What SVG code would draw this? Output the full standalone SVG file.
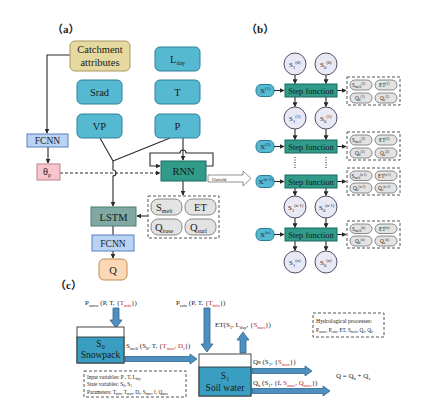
<svg xmlns="http://www.w3.org/2000/svg" width="440" height="411" viewBox="0 0 440 411" font-family="'Liberation Serif', 'Times New Roman', serif">
<defs>
<style>
text{font-family:'Liberation Serif','Times New Roman',serif;fill:#1a1a1a}
.lbl{font-weight:bold;font-size:11px}
.cjk{font-family:'Noto Sans CJK SC',sans-serif;font-weight:bold}
.inp{fill:#56b9d2;stroke:#2f7e98;stroke-width:1}
.fc{fill:#b9d3f5;stroke:#5a7fc0;stroke-width:1}
.teal{fill:#2f9b88;stroke:#1d6b5e;stroke-width:1}
.pill{fill:#e3e3e3;stroke:#6f6f6f;stroke-width:0.8}
.dbox{fill:none;stroke:#555;stroke-width:1;stroke-dasharray:3,2}
.ln{fill:none;stroke:#2a2a2a;stroke-width:1.1}
.circ{fill:#e9e9f5;stroke:#50506a;stroke-width:1}
.barrow{fill:#4f8fbf;stroke:#2c6690;stroke-width:0.8}
.red{fill:#c0282c}
.t10{font-size:10.5px}
.t9{font-size:9.5px}
.t7{font-size:7px}
.t5{font-size:5.2px}
.t4{font-size:4.6px}
</style>
<marker id="ah" viewBox="0 0 8 8" refX="7" refY="4" markerWidth="5" markerHeight="5" orient="auto" markerUnits="userSpaceOnUse">
<path d="M0,0 L8,4 L0,8 z" fill="#2a2a2a"/>
</marker>
</defs>
<rect width="440" height="411" fill="#ffffff"/>

<!-- panel labels -->
<text class="lbl" x="52" y="33"><tspan class="cjk">（</tspan>a<tspan class="cjk">）</tspan></text>
<text class="lbl" x="246" y="33"><tspan class="cjk">（</tspan>b<tspan class="cjk">）</tspan></text>
<text class="lbl" x="55" y="289"><tspan class="cjk">（</tspan>c<tspan class="cjk">）</tspan></text>

<!-- connectors panel a -->
<g id="connectors-a">
<polyline class="ln" points="70,55 47,55 47,133" marker-end="url(#ah)"/>
<line class="ln" x1="48" y1="147" x2="48" y2="163" marker-end="url(#ah)"/>
<line class="ln" x1="60" y1="173" x2="160" y2="173" stroke-dasharray="3,2" marker-end="url(#ah)"/>
<line class="ln" x1="100" y1="138" x2="113" y2="161"/>
<line class="ln" x1="170" y1="138" x2="113" y2="161"/>
<path class="ln" d="M113,161 V170 A3,3 0 0 1 113,176 V206" marker-end="url(#ah)"/>
<line class="ln" x1="183" y1="138" x2="183" y2="160" marker-end="url(#ah)"/>
<path class="ln" d="M206,166 H213 V153 H186 A3,3 0 0 0 180,153 H150 V166 H160" marker-end="url(#ah)"/>
<line class="ln" x1="183" y1="181" x2="183" y2="195" marker-end="url(#ah)"/>
<line class="ln" x1="148" y1="216" x2="137" y2="216" marker-end="url(#ah)"/>
<line class="ln" x1="113" y1="226" x2="113" y2="235"/>
<line class="ln" x1="113" y1="251" x2="113" y2="258" marker-end="url(#ah)"/>
<polygon points="208,175 243,175 243,171 251,178.5 243,186 243,182 208,182" fill="#ffffff" stroke="#777" stroke-width="0.8"/>
<text x="212" y="180.5" style="font-size:5px">Unfold</text>
</g>

<!-- nodes panel a -->
<g id="catchment">
<rect x="70" y="41" width="60" height="30" rx="5" fill="#e6d9a0" stroke="#a89660" stroke-width="1"/>
<text class="t10" x="100" y="53" text-anchor="middle">Catchment</text>
<text class="t10" x="100" y="66" text-anchor="middle">attributes</text>
</g>
<g id="lday">
<rect class="inp" x="155" y="47" width="45" height="24" rx="5"/>
<text class="t10" x="170" y="63">L<tspan style="font-size:6px" dy="2">day</tspan></text>
</g>
<g id="srad">
<rect class="inp" x="77" y="80" width="45" height="24" rx="5"/>
<text class="t10" x="99.5" y="96" text-anchor="middle">Srad</text>
</g>
<g id="t">
<rect class="inp" x="155" y="80" width="45" height="24" rx="5"/>
<text class="t10" x="177.5" y="96" text-anchor="middle">T</text>
</g>
<g id="vp">
<rect class="inp" x="77" y="114" width="45" height="24" rx="5"/>
<text class="t10" x="99.5" y="130" text-anchor="middle">VP</text>
</g>
<g id="p">
<rect class="inp" x="155" y="114" width="45" height="24" rx="5"/>
<text class="t10" x="177.5" y="130" text-anchor="middle">P</text>
</g>
<g id="fcnn1">
<rect class="fc" x="27" y="134" width="41" height="13"/>
<text class="t9" x="47.5" y="144" text-anchor="middle">FCNN</text>
</g>
<g id="thetap">
<rect x="37" y="164" width="23" height="16" fill="#f7c6cc" stroke="#c08088" stroke-width="1"/>
<text class="t10" x="43" y="175">θ<tspan style="font-size:6px" dy="2">p</tspan></text>
</g>
<g id="rnn">
<rect class="teal" x="161" y="161" width="45" height="20"/>
<text class="t10" x="183.5" y="175" text-anchor="middle">RNN</text>
</g>
<g id="outputs-a">
<rect class="dbox" x="148" y="196" width="71" height="42"/>
<rect class="pill" x="151" y="199" width="31" height="16" rx="7"/>
<rect class="pill" x="185" y="199" width="31" height="16" rx="7"/>
<rect class="pill" x="151" y="219" width="31" height="16" rx="7"/>
<rect class="pill" x="185" y="219" width="31" height="16" rx="7"/>
<text class="t10" x="156" y="211">S<tspan style="font-size:6px" dy="2">melt</tspan></text>
<text class="t10" x="200.5" y="211" text-anchor="middle">ET</text>
<text class="t10" x="155" y="231">Q<tspan style="font-size:6px" dy="2">base</tspan></text>
<text class="t10" x="190" y="231">Q<tspan style="font-size:6px" dy="2">surf</tspan></text>
</g>
<g id="lstm">
<rect x="91" y="207" width="45" height="19" fill="#7fa9a2" stroke="#4f7a72" stroke-width="1"/>
<text class="t10" x="113.5" y="220.5" text-anchor="middle">LSTM</text>
</g>
<g id="fcnn2">
<rect class="fc" x="92" y="235" width="42" height="16"/>
<text class="t9" x="113" y="246.5" text-anchor="middle">FCNN</text>
</g>
<g id="q">
<rect x="99" y="259" width="28" height="21" rx="5" fill="#fcd9b6" stroke="#c08a50" stroke-width="1"/>
<text class="t10" x="113" y="273.5" text-anchor="middle">Q</text>
</g>

<!-- panel b connectors -->
<g id="connectors-b">
<line class="ln" x1="274" y1="90.5" x2="284" y2="90.5" marker-end="url(#ah)"/>
<line class="ln" x1="274" y1="146.5" x2="284" y2="146.5" marker-end="url(#ah)"/>
<line class="ln" x1="274" y1="181.5" x2="284" y2="181.5" marker-end="url(#ah)"/>
<line class="ln" x1="274" y1="234.5" x2="284" y2="234.5" marker-end="url(#ah)"/>
<line class="ln" x1="337" y1="90.5" x2="346" y2="90.5" marker-end="url(#ah)"/>
<line class="ln" x1="337" y1="146.5" x2="346" y2="146.5" marker-end="url(#ah)"/>
<line class="ln" x1="337" y1="181.5" x2="346" y2="181.5" marker-end="url(#ah)"/>
<line class="ln" x1="337" y1="234.5" x2="346" y2="234.5" marker-end="url(#ah)"/>
<g stroke-width="0.9">
<line class="ln" x1="295" y1="75" x2="295" y2="83.5" marker-end="url(#ah)"/>
<line class="ln" x1="326" y1="75" x2="326" y2="83.5" marker-end="url(#ah)"/>
<line class="ln" x1="295" y1="97" x2="295" y2="106.5" marker-end="url(#ah)"/>
<line class="ln" x1="326" y1="97" x2="326" y2="106.5" marker-end="url(#ah)"/>
<line class="ln" x1="295" y1="129" x2="295" y2="139.5" marker-end="url(#ah)"/>
<line class="ln" x1="326" y1="129" x2="326" y2="139.5" marker-end="url(#ah)"/>
<line class="ln" x1="295" y1="157" x2="295" y2="168" stroke-dasharray="1,1.5"/>
<line class="ln" x1="326" y1="157" x2="326" y2="168" stroke-dasharray="1,1.5"/>
<line class="ln" x1="295" y1="188" x2="295" y2="195.5" marker-end="url(#ah)"/>
<line class="ln" x1="326" y1="188" x2="326" y2="195.5" marker-end="url(#ah)"/>
<line class="ln" x1="295" y1="218" x2="295" y2="227.5" marker-end="url(#ah)"/>
<line class="ln" x1="326" y1="218" x2="326" y2="227.5" marker-end="url(#ah)"/>
<line class="ln" x1="295" y1="241" x2="295" y2="250.5" marker-end="url(#ah)"/>
<line class="ln" x1="326" y1="241" x2="326" y2="250.5" marker-end="url(#ah)"/>
</g>
</g>

<!-- panel b nodes -->
<g id="states-0">
<circle class="circ" cx="295" cy="64" r="11"/><circle class="circ" cx="326" cy="64" r="11"/>
<text class="t7" x="289" y="67">S<tspan class="t4" dy="2">1</tspan><tspan class="t4" dy="-5">(0)</tspan></text>
<text class="t7" x="320" y="67">S<tspan class="t4" dy="2">0</tspan><tspan class="t4" dy="-5">(0)</tspan></text>
</g>
<g id="states-1">
<circle class="circ" cx="295" cy="118" r="11"/><circle class="circ" cx="326" cy="118" r="11"/>
<text class="t7" x="289" y="121">S<tspan class="t4" dy="2">1</tspan><tspan class="t4" dy="-5">(1)</tspan></text>
<text class="t7" x="320" y="121">S<tspan class="t4" dy="2">0</tspan><tspan class="t4" dy="-5">(1)</tspan></text>
</g>
<g id="states-n1">
<circle class="circ" cx="295" cy="207" r="11"/><circle class="circ" cx="326" cy="207" r="11"/>
<text class="t7" x="288" y="210">S<tspan class="t4" dy="2">1</tspan><tspan class="t4" dy="-5">(n-1)</tspan></text>
<text class="t7" x="319" y="210">S<tspan class="t4" dy="2">0</tspan><tspan class="t4" dy="-5">(n-1)</tspan></text>
</g>
<g id="states-n">
<circle class="circ" cx="295" cy="262" r="11"/><circle class="circ" cx="326" cy="262" r="11"/>
<text class="t7" x="289" y="265">S<tspan class="t4" dy="2">1</tspan><tspan class="t4" dy="-5">(n)</tspan></text>
<text class="t7" x="320" y="265">S<tspan class="t4" dy="2">0</tspan><tspan class="t4" dy="-5">(n)</tspan></text>
</g>

<g id="step-1">
<rect class="inp" x="256" y="84.5" width="18" height="12" rx="5"/>
<text class="t7" x="260" y="93">X<tspan class="t4" dy="-3">(1)</tspan></text>
<rect class="teal" x="285" y="84" width="52" height="13"/>
<text x="311" y="93.5" text-anchor="middle" style="font-size:8.5px">Step function</text>
</g>
<g id="step-2">
<rect class="inp" x="256" y="140.5" width="18" height="12" rx="5"/>
<text class="t7" x="260" y="149">X<tspan class="t4" dy="-3">(2)</tspan></text>
<rect class="teal" x="285" y="140" width="52" height="13"/>
<text x="311" y="149.5" text-anchor="middle" style="font-size:8.5px">Step function</text>
</g>
<g id="step-n1">
<rect class="inp" x="256" y="175.5" width="18" height="12" rx="5"/>
<text class="t7" x="258.5" y="184">X<tspan class="t4" dy="-3">(n-1)</tspan></text>
<rect class="teal" x="285" y="175" width="52" height="13"/>
<text x="311" y="184.5" text-anchor="middle" style="font-size:8.5px">Step function</text>
</g>
<g id="step-n">
<rect class="inp" x="256" y="228.5" width="18" height="12" rx="5"/>
<text class="t7" x="260" y="237">X<tspan class="t4" dy="-3">(n)</tspan></text>
<rect class="teal" x="285" y="228" width="52" height="13"/>
<text x="311" y="237.5" text-anchor="middle" style="font-size:8.5px">Step function</text>
</g>

<g id="out-1">
<rect class="dbox" x="347" y="77" width="53" height="28"/>
<rect class="pill" x="350" y="80" width="22" height="10" rx="5"/><rect class="pill" x="375" y="80" width="22" height="10" rx="5"/>
<rect class="pill" x="350" y="93" width="22" height="10" rx="5"/><rect class="pill" x="375" y="93" width="22" height="10" rx="5"/>
<text class="t5" x="352" y="87">S<tspan style="font-size:3.5px" dy="1">melt</tspan><tspan style="font-size:3.5px" dy="-3">(1)</tspan></text>
<text class="t5" x="379" y="87">ET<tspan style="font-size:3.5px" dy="-2">(1)</tspan></text>
<text class="t5" x="355" y="100">Q<tspan style="font-size:3.5px" dy="1">b</tspan><tspan style="font-size:3.5px" dy="-3">(1)</tspan></text>
<text class="t5" x="380" y="100">Q<tspan style="font-size:3.5px" dy="1">s</tspan><tspan style="font-size:3.5px" dy="-3">(1)</tspan></text>
</g>
<g id="out-2">
<rect class="dbox" x="347" y="132" width="53" height="28"/>
<rect class="pill" x="350" y="135" width="22" height="10" rx="5"/><rect class="pill" x="375" y="135" width="22" height="10" rx="5"/>
<rect class="pill" x="350" y="148" width="22" height="10" rx="5"/><rect class="pill" x="375" y="148" width="22" height="10" rx="5"/>
<text class="t5" x="352" y="142">S<tspan style="font-size:3.5px" dy="1">melt</tspan><tspan style="font-size:3.5px" dy="-3">(2)</tspan></text>
<text class="t5" x="379" y="142">ET<tspan style="font-size:3.5px" dy="-2">(2)</tspan></text>
<text class="t5" x="355" y="155">Q<tspan style="font-size:3.5px" dy="1">b</tspan><tspan style="font-size:3.5px" dy="-3">(2)</tspan></text>
<text class="t5" x="380" y="155">Q<tspan style="font-size:3.5px" dy="1">s</tspan><tspan style="font-size:3.5px" dy="-3">(2)</tspan></text>
</g>
<g id="out-n1">
<rect class="dbox" x="347" y="168" width="53" height="27"/>
<rect class="pill" x="350" y="171" width="22" height="9.5" rx="5"/><rect class="pill" x="375" y="171" width="22" height="9.5" rx="5"/>
<rect class="pill" x="350" y="183" width="22" height="10" rx="5"/><rect class="pill" x="375" y="183" width="22" height="10" rx="5"/>
<text class="t5" x="351.5" y="178">S<tspan style="font-size:3.2px" dy="1">melt</tspan><tspan style="font-size:3.2px" dy="-3">(n-1)</tspan></text>
<text class="t5" x="378" y="178">ET<tspan style="font-size:3.2px" dy="-2">(n-1)</tspan></text>
<text class="t5" x="353" y="190">Q<tspan style="font-size:3.5px" dy="1">b</tspan><tspan style="font-size:3.5px" dy="-3">(n-1)</tspan></text>
<text class="t5" x="378" y="190">Q<tspan style="font-size:3.5px" dy="1">s</tspan><tspan style="font-size:3.5px" dy="-3">(n-1)</tspan></text>
</g>
<g id="out-n">
<rect class="dbox" x="347" y="221" width="53" height="27"/>
<rect class="pill" x="350" y="224" width="22" height="9.5" rx="5"/><rect class="pill" x="375" y="224" width="22" height="9.5" rx="5"/>
<rect class="pill" x="350" y="236" width="22" height="10" rx="5"/><rect class="pill" x="375" y="236" width="22" height="10" rx="5"/>
<text class="t5" x="352" y="231">S<tspan style="font-size:3.5px" dy="1">melt</tspan><tspan style="font-size:3.5px" dy="-3">(n)</tspan></text>
<text class="t5" x="379" y="231">ET<tspan style="font-size:3.5px" dy="-2">(n)</tspan></text>
<text class="t5" x="355" y="243">Q<tspan style="font-size:3.5px" dy="1">b</tspan><tspan style="font-size:3.5px" dy="-3">(n)</tspan></text>
<text class="t5" x="380" y="243">Q<tspan style="font-size:3.5px" dy="1">s</tspan><tspan style="font-size:3.5px" dy="-3">(n)</tspan></text>
</g>

<!-- panel c -->
<g id="connectors-c">
<polygon class="barrow" points="113,308 119,308 119,320 122,320 116,328 110,320 113,320"/>
<polygon class="barrow" points="204,308 210,308 210,344 213,344 207,352 201,344 204,344"/>
<polygon class="barrow" points="240,353 246,353 246,340 249,340 243,332 237,340 240,340"/>
<polygon class="barrow" points="125,356.5 190,356.5 190,354 197,359 190,364 190,361.5 125,361.5"/>
<polygon class="barrow" points="252,368.5 305,368.5 305,366 312,371 305,376 305,373.5 252,373.5"/>
<polygon class="barrow" points="252,388.5 323,388.5 323,386 330,391 323,396 323,393.5 252,393.5"/>
</g>
<g id="snowpack">
<rect x="77" y="327" width="47" height="36" fill="#ffffff" stroke="#333" stroke-width="0.9"/>
<rect x="77" y="337" width="47" height="26" fill="#3a9ec2" stroke="#333" stroke-width="0.9"/>
<text class="t9" x="100.5" y="347" text-anchor="middle">S<tspan style="font-size:6px" dy="2">0</tspan></text>
<text class="t9" x="100.5" y="358" text-anchor="middle">Snowpack</text>
</g>
<g id="soilwater">
<rect x="199" y="354" width="52" height="42" fill="#ffffff" stroke="#333" stroke-width="0.9"/>
<rect x="199" y="367" width="52" height="29" fill="#3a9ec2" stroke="#333" stroke-width="0.9"/>
<text class="t9" x="225" y="379" text-anchor="middle">S<tspan style="font-size:6px" dy="2">1</tspan></text>
<text class="t9" x="225" y="391" text-anchor="middle">Soil water</text>
</g>
<g id="labels-c">
<text class="t7" x="85" y="305">P<tspan class="t4" dy="1.5">snow</tspan><tspan dy="-1.5"> (P, T, {</tspan><tspan class="red">T</tspan><tspan class="t4 red" dy="1.5">min</tspan><tspan dy="-1.5">})</tspan></text>
<text class="t7" x="176" y="305">P<tspan class="t4" dy="1.5">rain</tspan><tspan dy="-1.5"> (P, T, {</tspan><tspan class="red">T</tspan><tspan class="t4 red" dy="1.5">min</tspan><tspan dy="-1.5">})</tspan></text>
<text class="t7" x="126" y="348">S<tspan class="t4" dy="1.5">melt</tspan><tspan dy="-1.5"> (S</tspan><tspan class="t4" dy="1.5">0</tspan><tspan dy="-1.5">, T, {</tspan><tspan class="red">T</tspan><tspan class="t4 red" dy="1.5">max</tspan><tspan class="red" dy="-1.5">, D</tspan><tspan class="t4 red" dy="1.5">f</tspan><tspan dy="-1.5">})</tspan></text>
<text class="t7" x="215" y="327">ET(S<tspan class="t4" dy="1.5">1</tspan><tspan dy="-1.5">, L</tspan><tspan class="t4" dy="1.5">day</tspan><tspan dy="-1.5">, {</tspan><tspan class="red">S</tspan><tspan class="t4 red" dy="1.5">max</tspan><tspan dy="-1.5">})</tspan></text>
<text class="t7" x="253" y="364">Qs (S<tspan class="t4" dy="1.5">1</tspan><tspan dy="-1.5">, {</tspan><tspan class="red">S</tspan><tspan class="t4 red" dy="1.5">max</tspan><tspan dy="-1.5">})</tspan></text>
<text class="t7" x="253" y="385">Q<tspan class="t4" dy="1.5">b</tspan><tspan dy="-1.5"> (S</tspan><tspan class="t4" dy="1.5">1</tspan><tspan dy="-1.5">, {f, </tspan><tspan class="red">S</tspan><tspan class="t4 red" dy="1.5">max</tspan><tspan class="red" dy="-1.5">, Q</tspan><tspan class="t4 red" dy="1.5">max</tspan><tspan dy="-1.5">})</tspan></text>
<text class="t7" x="336" y="378">Q = Q<tspan class="t4" dy="1.5">b</tspan><tspan dy="-1.5"> + Q</tspan><tspan class="t4" dy="1.5">s</tspan></text>
</g>
<g id="hydro-box">
<rect class="dbox" x="313" y="313" width="71" height="24"/>
<text class="t5" x="316" y="323" style="font-size:5.8px">Hydrological processes:</text>
<text class="t5" x="316" y="332">P<tspan style="font-size:3.4px" dy="1">snow</tspan><tspan dy="-1">, P</tspan><tspan style="font-size:3.4px" dy="1">rain</tspan><tspan dy="-1">, ET, S</tspan><tspan style="font-size:3.4px" dy="1">melt</tspan><tspan dy="-1">, Q</tspan><tspan style="font-size:3.4px" dy="1">s</tspan><tspan dy="-1">, Q</tspan><tspan style="font-size:3.4px" dy="1">b</tspan></text>
</g>
<g id="legend-box">
<rect class="dbox" x="84" y="371" width="102" height="26"/>
<text class="t5" x="87" y="378.5">Input variables: P , T, L<tspan style="font-size:3.4px" dy="1">day</tspan></text>
<text class="t5" x="87" y="386">State variables: S<tspan style="font-size:3.4px" dy="1">0</tspan><tspan dy="-1">, S</tspan><tspan style="font-size:3.4px" dy="1">1</tspan></text>
<text class="t5" x="87" y="393.5">Parameters: T<tspan style="font-size:3.4px" dy="1">min</tspan><tspan dy="-1">, T</tspan><tspan style="font-size:3.4px" dy="1">max</tspan><tspan dy="-1">, D</tspan><tspan style="font-size:3.4px" dy="1">f</tspan><tspan dy="-1">, S</tspan><tspan style="font-size:3.4px" dy="1">max</tspan><tspan dy="-1">, f, Q</tspan><tspan style="font-size:3.4px" dy="1">max</tspan></text>
</g>
</svg>
